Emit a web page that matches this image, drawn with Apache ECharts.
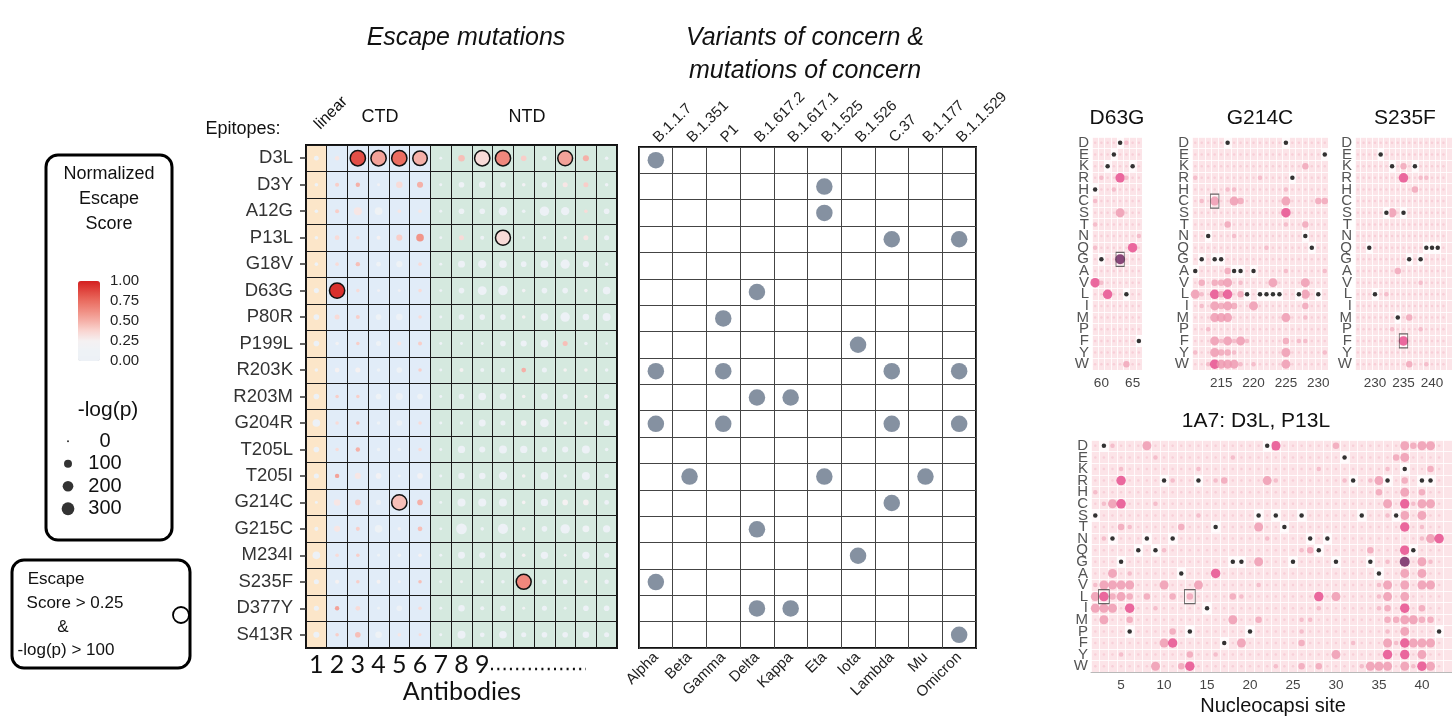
<!DOCTYPE html>
<html>
<head>
<meta charset="utf-8">
<script src="https://cdn.jsdelivr.net/npm/echarts@6/dist/echarts.min.js"></script>
<style>
  html, body { margin: 0; padding: 0; background: #fff; }
  #chart { width: 1452px; height: 718px; }
</style>
</head>
<body>
<div id="chart"></div>
<script>
// ── escape-mutation heatmap data ──────────────────────────────
const MUTATIONS = ['D3L','D3Y','A12G','P13L','G18V','D63G','P80R','P199L','R203K','R203M',
                   'G204R','T205L','T205I','G214C','G215C','M234I','S235F','D377Y','S413R']
const ANTIBODIES = ['1','2','3','4','5','6','7','8','9','10','11','12','13','14','15']
const EPITOPE_OF_AB = ['linear','CTD','CTD','CTD','CTD','CTD',
                       'NTD','NTD','NTD','NTD','NTD','NTD','NTD','NTD','NTD']

// -log(p) per mutation (rows) x antibody (cols)
const LOGP = [
  [25, 20,450,450,450,400, 5, 60,450,450, 40, 20,420, 50, 10],
  [10, 15, 20,  5, 60, 50, 5, 40, 60, 40, 10, 40, 30, 30, 10],
  [10, 15,100, 90, 10, 10, 5, 40, 40,120, 10,150,110, 10, 40],
  [10, 25, 10, 15, 50, 90, 5, 30, 15,430,  5, 10, 10, 30, 30],
  [10, 10, 20, 25, 50, 10, 5, 70,110, 90, 40, 90,140, 50, 10],
  [30,450, 10,  5,  5, 10, 5, 40,130,150, 10, 40, 40, 10, 90],
  [40, 30, 15, 40, 60, 10, 5, 40, 40, 40, 10, 90,150, 60,100],
  [40, 10, 10, 30, 15, 15, 5,  5,  5, 40, 50, 90, 30, 10,  3],
  [10, 25, 30, 10, 40, 10, 5, 15, 15, 25, 25, 30, 10, 10, 10],
  [40, 10, 10, 40, 70, 40, 5, 40, 90, 60, 10, 60, 30, 10, 30],
  [90, 10, 10, 10, 40, 10, 5, 10, 70, 30, 40,120, 10, 10, 50],
  [40, 10, 20, 10, 10, 10, 5, 80, 50,100, 80, 40, 50,100, 10],
  [30, 20, 50, 40,  5, 40, 5, 60, 60,110, 10, 90, 10,100, 20],
  [ 5, 60, 40, 30,450, 40, 5,100,100,100, 10, 80, 40, 40, 25],
  [15, 50, 15, 90, 10, 25, 5,200, 10,180, 10, 40,150, 70, 80],
  [90, 10, 10,  5, 10, 10, 5, 70, 50, 50, 10, 80,  5, 80, 30],
  [30, 15, 10, 15,  5, 10, 5,  5, 10, 10,430, 25, 25, 10, 20],
  [30, 20, 25,  5, 40, 10, 5, 60, 15, 40,  5, 30,  5, 40, 40],
  [50, 10, 40, 60, 10,  5, 5,100, 25, 90, 30, 40, 40, 60, 30],
]
// normalized escape score, same layout
const SCORE = [
  [.10,.30,.85,.55,.75,.50,.10,.45,.35,.65,.40,.10,.55,.50,.10],
  [.10,.40,.50,.20,.35,.50,.10,.10,.10,.10,.20,.05,.30,.40,.10],
  [.10,.40,.30,.15,.30,.30,.10,.10,.05,.05,.10,.05,.05,.35,.05],
  [.10,.35,.35,.25,.40,.60,.10,.35,.10,.35,.10,.10,.20,.30,.05],
  [.10,.35,.45,.10,.10,.35,.10,.05,.05,.05,.05,.05,.05,.05,.10],
  [.10,.95,.35,.20,.20,.35,.10,.05,.05,.05,.20,.05,.05,.20,.05],
  [.05,.35,.40,.10,.05,.35,.10,.05,.05,.05,.25,.05,.05,.05,.05],
  [.05,.20,.40,.10,.30,.40,.10,.10,.10,.05,.05,.00,.45,.10,.10],
  [.10,.25,.25,.10,.10,.40,.10,.25,.10,.05,.50,.05,.25,.25,.10],
  [.05,.40,.40,.10,.05,.10,.10,.05,.05,.05,.25,.05,.05,.25,.05],
  [.05,.35,.45,.10,.05,.35,.10,.10,.05,.05,.20,.05,.20,.25,.05],
  [.05,.35,.50,.10,.10,.35,.10,.05,.05,.05,.05,.05,.05,.05,.10],
  [.05,.55,.30,.20,.10,.20,.10,.05,.05,.05,.25,.05,.10,.05,.05],
  [.10,.30,.40,.05,.45,.50,.10,.05,.05,.05,.25,.05,.25,.25,.05],
  [.10,.30,.40,.10,.20,.45,.10,.05,.10,.05,.25,.05,.05,.15,.05],
  [.05,.35,.40,.10,.10,.25,.10,.05,.05,.05,.25,.05,.20,.05,.05],
  [.05,.25,.40,.25,.20,.45,.10,.20,.10,.10,.65,.05,.05,.25,.05],
  [.05,.55,.35,.10,.05,.35,.10,.05,.10,.05,.20,.05,.10,.05,.05],
  [.05,.40,.45,.10,.30,.35,.10,.05,.05,.05,.05,.05,.05,.05,.05],
]
const SCORE_CUT = 0.25
const LOGP_CUT = 100
const SIZE_LEGEND = ['0','100','200','300']

// ── variants of concern ──────────────────────────────────────
const VOC_LINEAGES = ['B.1.1.7','B.1.351','P1','B.1.617.2','B.1.617.1','B.1.525','B.1.526','C.37','B.1.177','B.1.1.529']
const VOC_NAMES = ['Alpha','Beta','Gamma','Delta','Kappa','Eta','Iota','Lambda','Mu','Omicron']
// variant indices carrying each mutation (same order as MUTATIONS)
const VOC_HITS = [[0],[5],[5],[7,9],[],[3],[2],[6],[0,2,7,9],[3,4],[0,2,7,9],[],[1,5,8],[7],[3],[6],[0],[3,4],[9]]

// ── deep mutational scanning panels ──────────────────────────
const AA = ['D','E','K','R','H','C','S','T','N','Q','G','A','V','L','I','M','P','F','Y','W']
// codes: . faint  1-3 pink (small→large)  4 strong pink  p purple  b wild type
const D63G_SITES = [59,60,61,62,63,64,65,66]
const D63G_ROWS = ['....b1..','...b....','..b...b.','.1..41..','b..1....','1.......','....3...','1.......',
  '.......1','1.....4.','.b..p...','........','41......','..4..b..','........','........','........',
  '.......b','........','.....2..']
const D63G_BOX = [[63,'G']]

const G214C_SITES = [211,212,213,214,215,216,217,218,219,220,221,222,223,224,225,226,227,228,229,230,231]
const G214C_ROWS = [
  '..... b.... ....b ..... .', '..... ..... ..... ..... b', '..... ..... ..... ..2.. .',
  '1.... ..... 1.... b.... .', '..... 11... ....1 ..... .', '.1.3. .32.. ....3 ....2 2',
  '..... ..... ....4 ..... .', '..... 2.... ....1 ..2.. .', '..b.. .1... ..... ..b.. .',
  '..... ..... .1... ...b. .', '.b.bb ..... ..... ..... .', 'b.... 2bb.b ....1 ..... 1',
  '.2.22 3.1.. ..3.. ..3.. .', '31.42 4.2b. bbbb. .b3.b .', '.1.32 32..3 ..... ..2.. .',
  '...33 3.... ....3 ..1.. .', '..1.. ..... ..... ..... .', '...31 3131. ....2 .11.. .',
  '1..32 21... ....3 ..... 1', '..143 331.1 ....3 ..... .']
const G214C_BOX = [[214,'C']]

const S235F_SITES = [227,228,229,230,231,232,233,234,235,236,237,238,239,240,241,242,243]
const S235F_ROWS = [
  '..... ..... ..... .', '....b ..... ..... .', '..... .b.2. b.... .', '..... ...4. .11.. .',
  '..... ..... 2.... .', '..... ..... ..... .', '..... b3.b. ..... .', '..... ..... ..... .',
  '..... ..... ..... .', '..b.. ..... ..bbb .', '..... ....b .b... .', '..... ..2.. ..... .',
  '..... ..... .1... .', '...b. 1.... ..... .', '..... ..... ..... .', '..... ..b.2 ..... .',
  '..... .1... .1... .', '..... ...4. ..... .', '..... ..... ..... .', '..... ....2 ..1.. .']
const S235F_BOX = [[235,'F']]

const NC_SITES = [2,3,4,5,6,7,8,9,10,11,12,13,14,15,16,17,18,19,20,21,22,23,24,25,26,27,28,29,30,
                  31,32,33,34,35,36,37,38,39,40,41,42,43]
const NC_ROWS = [
  '.b1.. .3... ..... ..... b4... ...2. ..... .3233 .',
  '..... ..1.. ..... .1... ..... ....b ..... 23... .',
  '...1. ..... ..1.. ..... ..... .1... ....1 .b..2 .',
  '...4. ...b1 ..b.1 2.... 31... ....1 b.13b .2.bb .',
  '1.... ..... ..... ..... ..... ..... ...2. .3.2. .',
  '.134. ..1.. ..... ..... ..... ..... ....3 .4133 .',
  'b.... ..... ..1.. ....b .b..b ..... .b..1 b3.3. .',
  '...21 ..... 2...b ....3 ..b.. ..... ..... .4.1. .',
  '.1b.. .b..b ..... ..... 1.... b.b.. ..... ...13 4',
  '..... b.b1. ..... ..... ....1 2b... ..2.. .4b.. .',
  '...b. ..... ..... .bb.3 ...b. ...b. ..b.1 .p.31 .',
  '..3.1 ..... b...4 ..... ..... ..... ...b. .3.3. .',
  '13333 ...3. ..3.. ....1 ..... ..... ...13 .3.33 .',
  '34232 .2..2 .2... .21.. ..... .4.3. ...13 .3... .',
  '333.4 ..1.. ...b. ..... ..... .1... ...12 .4.2. .',
  '.3..2 ..... ..... .3..2 ....1 1.... ....2 23322 .',
  '....b ....2 .b... ...b. ....1 ..... ....1 .3... b',
  '..... ...34 ..... b.3.. ....2 ..... 1...3 14333 .',
  '...1. ..... .2..1 ..... ..... ...3. ....4 .4.3. .',
  '..... ..3.. 24... ..... .1..2 .2... .1333 .3143 .']
const NC_BOX = [[3,'L'],[13,'L']]

// ── styling / layout ─────────────────────────────────────────
const FONT = '"Liberation Sans", Arial, sans-serif'
const EPITOPE_BG = { linear: '#fce6c9', CTD: '#e1ecf8', NTD: '#d5e9df' }
const DOT_STYLE = {
  '.': { size: 2.5, color: '#f6c9d3' },
  '1': { size: 4.5, color: '#f3b3c3' },
  '2': { size: 6.5, color: '#f0a2b7' },
  '3': { size: 9,   color: '#ee97af' },
  '4': { size: 9.5, color: '#e5478a' },
  'p': { size: 10,  color: '#6a1f5c' },
}
const MAIN = { left: 306, top: 145, width: 311, height: 503 }
const VOC = { left: 639, top: 147, width: 337, height: 501 }
const PANELS = [
  { name: 'D63G',  sites: D63G_SITES,  rows: D63G_ROWS,  box: D63G_BOX,  left: 1092, top: 137, width: 50,  height: 233 },
  { name: 'G214C', sites: G214C_SITES, rows: G214C_ROWS, box: G214C_BOX, left: 1192, top: 137, width: 136, height: 233 },
  { name: 'S235F', sites: S235F_SITES, rows: S235F_ROWS, box: S235F_BOX, left: 1355, top: 137, width: 109, height: 233 },
  { name: 'NC',    sites: NC_SITES,    rows: NC_ROWS,    box: NC_BOX,    left: 1091, top: 440, width: 366, height: 232 },
]

const bubbleSize = p => Math.max(2, 0.65 * Math.sqrt(p) + 1.5)

// bubble data, split by the highlight rule
const mainNormal = [], mainFlag = []
MUTATIONS.forEach((m, r) => {
  ANTIBODIES.forEach((a, c) => {
    const item = [c, r, LOGP[r][c], SCORE[r][c]]
    if (SCORE[r][c] > SCORE_CUT && LOGP[r][c] > LOGP_CUT) mainFlag.push(item)
    else mainNormal.push(item)
  })
})
const vocData = []
VOC_HITS.forEach((hits, r) => hits.forEach(c => vocData.push([c, r])))

const grids = [
  { ...MAIN, show: true, borderColor: '#111', borderWidth: 2, backgroundColor: 'transparent' },
  { ...VOC, show: true, borderColor: '#111', borderWidth: 2, backgroundColor: '#fff' },
]
const xAxes = [
  { gridIndex: 0, type: 'category', data: ANTIBODIES, boundaryGap: true,
    axisLine: { show: false }, axisTick: { show: false },
    splitLine: { show: true, interval: 0, lineStyle: { color: '#1a1a1a', width: 1 } },
    axisLabel: { interval: 0, margin: 4, fontSize: 25, color: '#111', fontFamily: 'Lato, "Open Sans", sans-serif',
      formatter: (v, i) => (i < 9 ? v : '') } },
  { gridIndex: 1, type: 'category', data: VOC_LINEAGES, position: 'top', boundaryGap: true,
    axisLine: { show: false }, axisTick: { show: false }, splitLine: { show: false },
    axisLabel: { interval: 0, rotate: -45, margin: 7, fontSize: 15, color: '#222', fontFamily: FONT } },
  { gridIndex: 1, type: 'category', data: VOC_NAMES, position: 'bottom', boundaryGap: true,
    axisLine: { show: false }, axisTick: { show: false },
    splitLine: { show: true, interval: 0, lineStyle: { color: '#444', width: 1 } },
    axisLabel: { interval: 0, rotate: 45, margin: 7, fontSize: 15, color: '#222', fontFamily: FONT } },
]
const yAxes = [
  { gridIndex: 0, type: 'category', data: MUTATIONS, inverse: true, boundaryGap: true,
    axisLine: { show: false },
    axisTick: { show: true, alignWithLabel: true, length: 6, lineStyle: { color: '#333', width: 1.5 } },
    splitLine: { show: true, interval: 0, lineStyle: { color: '#1a1a1a', width: 1 } },
    axisLabel: { interval: 0, margin: 13, fontSize: 18.5, color: '#333', fontFamily: FONT } },
  { gridIndex: 1, type: 'category', data: MUTATIONS, inverse: true, boundaryGap: true,
    axisLine: { show: false }, axisTick: { show: false }, axisLabel: { show: false },
    splitLine: { show: true, interval: 0, lineStyle: { color: '#444', width: 1 } } },
]

const series = [
  // epitope shading behind the grid lines
  { type: 'custom', xAxisIndex: 0, yAxisIndex: 0, z: -1, silent: true,
    data: ANTIBODIES.map((a, i) => [i, 0]),
    renderItem: (params, api) => {
      const p = api.coord([api.value(0), 0])
      const w = api.size([1, 1])[0]
      const cs = params.coordSys
      return { type: 'rect', shape: { x: p[0] - w / 2, y: cs.y, width: w, height: cs.height },
               style: { fill: EPITOPE_BG[EPITOPE_OF_AB[params.dataIndex]] } }
    } },
  { type: 'scatter', xAxisIndex: 0, yAxisIndex: 0, data: mainNormal,
    symbolSize: v => bubbleSize(v[2]), itemStyle: { opacity: 1 } },
  { type: 'scatter', xAxisIndex: 0, yAxisIndex: 0, data: mainFlag,
    symbolSize: v => bubbleSize(v[2]), itemStyle: { opacity: 1, borderColor: '#111', borderWidth: 1.5 } },
  { type: 'scatter', xAxisIndex: 2, yAxisIndex: 1, data: vocData, symbolSize: 16.5,
    itemStyle: { color: '#67768a' } },
]

// deep mutational scanning panels
PANELS.forEach(pn => {
  const gi = grids.length
  grids.push({ left: pn.left, top: pn.top, width: pn.width, height: pn.height,
    show: true, backgroundColor: '#fce4e8', borderWidth: 0 })
  const xi = xAxes.length, yi = yAxes.length
  xAxes.push({ gridIndex: gi, type: 'category', data: pn.sites.map(String), boundaryGap: true,
    axisLine: { show: pn.name === 'NC', lineStyle: { color: '#b9b9b9', width: 1 } }, axisTick: { show: false },
    splitLine: { show: true, interval: 0, lineStyle: { color: '#ffffff', width: 0.8 } },
    axisLabel: { interval: 0, formatter: v => (+v % 5 === 0 ? v : ''), margin: 6,
                 fontSize: 13.5, color: '#444', fontFamily: FONT } })
  yAxes.push({ gridIndex: gi, type: 'category', data: AA, inverse: true, boundaryGap: true,
    axisLine: { show: false }, axisTick: { show: false },
    splitLine: { show: true, interval: 0, lineStyle: { color: '#ffffff', width: 0.8 } },
    axisLabel: { interval: 0, margin: 3, fontSize: 15, color: '#555', fontFamily: FONT } })
  const dots = [], wild = []
  pn.rows.forEach((row, r) => {
    row.replace(/ /g, '').split('').forEach((ch, i) => {
      if (ch === 'b') wild.push([i, r])
      else if (DOT_STYLE[ch]) dots.push([i, r, ch])
    })
  })
  const cellW = pn.width / pn.sites.length, cellH = pn.height / AA.length
  series.push(
    { type: 'scatter', xAxisIndex: xi, yAxisIndex: yi, data: dots, silent: true,
      symbolSize: v => DOT_STYLE[v[2]].size,
      itemStyle: { color: p => DOT_STYLE[p.value[2]].color } },
    { type: 'scatter', xAxisIndex: xi, yAxisIndex: yi, data: wild, silent: true,
      symbol: 'rect', symbolSize: [cellW, cellH], itemStyle: { color: '#ffffff' } },
    { type: 'scatter', xAxisIndex: xi, yAxisIndex: yi, data: wild, silent: true,
      symbolSize: 4.5, itemStyle: { color: '#000' } },
    { type: 'scatter', xAxisIndex: xi, yAxisIndex: yi, silent: true,
      data: pn.box.map(b => [pn.sites.indexOf(b[0]), AA.indexOf(b[1])]),
      symbol: 'rect', symbolSize: [Math.max(cellW + 2, 8), 14],
      itemStyle: { color: 'transparent', borderColor: '#444', borderWidth: 1 } },
  )
})

// colour-bar labels
grids.push({ left: 100, top: 281, width: 1, height: 80 })
xAxes.push({ gridIndex: grids.length - 1, type: 'value', show: false })
yAxes.push({ gridIndex: grids.length - 1, type: 'value', min: 0, max: 1, interval: 0.25, position: 'right',
  axisLine: { show: false }, axisTick: { show: false }, splitLine: { show: false },
  axisLabel: { margin: 9, fontSize: 15, color: '#222', fontFamily: FONT, formatter: v => v.toFixed(2) } })

// size legend
grids.push({ left: 62, top: 430, width: 12, height: 90 })
xAxes.push({ gridIndex: grids.length - 1, type: 'value', show: false, min: 0, max: 1 })
yAxes.push({ gridIndex: grids.length - 1, type: 'category', data: SIZE_LEGEND, inverse: true, position: 'right',
  axisLine: { show: false }, axisTick: { show: false }, splitLine: { show: false },
  axisLabel: { interval: 0, margin: 31, align: 'center', fontSize: 20, lineHeight: 20, color: '#111', fontFamily: FONT } })
series.push({ type: 'scatter', xAxisIndex: xAxes.length - 1, yAxisIndex: yAxes.length - 1, silent: true,
  data: SIZE_LEGEND.map(s => [0.5, s]), symbolSize: v => bubbleSize(+v[1]), itemStyle: { color: '#000' } })

const txt = (text, x, y, font, extra) => ({
  type: 'text', x, y, silent: true, ...(extra || {}),
  style: { text, x: 0, y: 0, font: font || ('17px ' + FONT), fill: '#111',
           align: 'center', verticalAlign: 'middle', textAlign: 'center', textVerticalAlign: 'middle' },
})

const graphic = [
  { type: 'rect', silent: true, shape: { x: 46, y: 155, width: 126, height: 385, r: 12 },
    style: { fill: 'none', stroke: '#000', lineWidth: 3 } },
  { type: 'rect', silent: true, shape: { x: 12, y: 560, width: 178, height: 108, r: 12 },
    style: { fill: 'none', stroke: '#000', lineWidth: 3 } },
  txt('Normalized', 109, 174, '18px ' + FONT),
  txt('Escape', 109, 199, '18px ' + FONT),
  txt('Score', 109, 224, '18px ' + FONT),
  txt('-log(p)', 108, 410, '21px ' + FONT),
  txt('Escape', 56, 579, '17px ' + FONT),
  txt('Score > 0.25', 75, 603, '17px ' + FONT),
  txt('&', 63, 627, '17px ' + FONT),
  txt('-log(p) > 100', 66, 650, '17px ' + FONT),
  { type: 'circle', silent: true, shape: { cx: 181, cy: 615, r: 8 },
    style: { fill: '#fff', stroke: '#000', lineWidth: 1.8 } },
  txt('Escape mutations', 466, 38, 'italic 25px ' + FONT),
  txt('Variants of concern &', 805, 38, 'italic 25px ' + FONT),
  txt('mutations of concern', 805, 71, 'italic 25px ' + FONT),
  txt('Epitopes:', 243, 129, '18px ' + FONT),
  txt('linear', 331, 113, '16px ' + FONT, { rotation: Math.PI / 4 }),
  txt('CTD', 380, 117, '18px ' + FONT),
  txt('NTD', 527, 117, '18px ' + FONT),
  txt('Antibodies', 462, 692, '25px Lato, "Open Sans", sans-serif'),
  { type: 'line', silent: true, shape: { x1: 491, y1: 669, x2: 586, y2: 669 },
    style: { stroke: '#111', lineWidth: 2.5, lineDash: [2, 4.3] } },
  txt('D63G', 1117, 118, '21px ' + FONT),
  txt('G214C', 1260, 118, '21px ' + FONT),
  txt('S235F', 1405, 118, '21px ' + FONT),
  txt('1A7: D3L, P13L', 1256, 421, '21px ' + FONT),
  txt('Nucleocapsi site', 1273, 706, '20px ' + FONT),
]

const chart = echarts.init(document.getElementById('chart'), null, { renderer: 'canvas' })
chart.setOption({
  animation: false,
  backgroundColor: '#fff',
  textStyle: { fontFamily: FONT },
  grid: grids,
  xAxis: xAxes,
  yAxis: yAxes,
  visualMap: {
    type: 'continuous', min: 0, max: 1, dimension: 3, seriesIndex: [1, 2],
    show: true, calculable: false, hoverLink: false, text: null, showLabel: false,
    left: 78, top: 281, itemWidth: 22, itemHeight: 80, padding: 0,
    inRange: { color: ['#edf1f6', '#eef2f6', '#f5f1f2', '#f9d5d1', '#f5b0a8',
                       '#f08e83', '#ea6d61', '#e04740', '#d42020'] },
  },
  series,
  graphic,
})
</script>
</body>
</html>
